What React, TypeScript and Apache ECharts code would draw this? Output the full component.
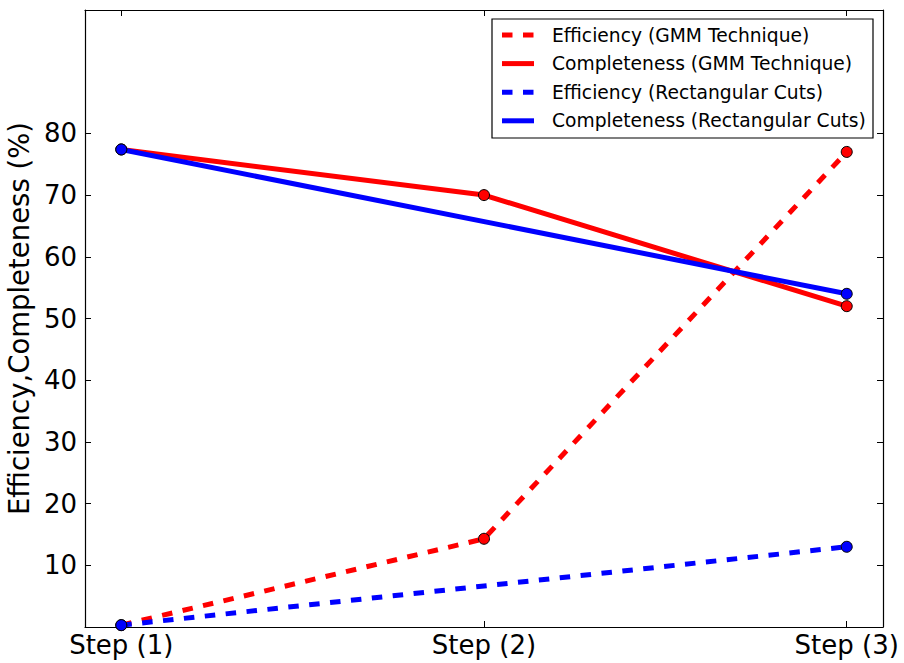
import React, { useEffect, useRef } from "react";
import * as echarts from "echarts";

// Selection steps (x positions 0, 1, 2)
const steps = ["Step (1)", "Step (2)", "Step (3)"];
const stepPos = [0, 1, 2];

// GMM technique, measured at all three steps
const gmmEfficiency = [0.3, 14.3, 77.0];
const gmmCompleteness = [77.4, 70.0, 52.0];

// Rectangular cuts, measured at the first and last step only
const rectSteps = [0, 2];
const rectEfficiency = [0.3, 13.0];
const rectCompleteness = [77.4, 54.0];

const yTicks = [10, 20, 30, 40, 50, 60, 70, 80];

const legendItems = [
  { name: "Efficiency (GMM Technique)", color: "#ff0000", dashed: true },
  { name: "Completeness (GMM Technique)", color: "#ff0000", dashed: false },
  { name: "Efficiency (Rectangular Cuts)", color: "#0000ff", dashed: true },
  { name: "Completeness (Rectangular Cuts)", color: "#0000ff", dashed: false },
];

const FONT = "DejaVu Sans";
const DASH = [10.5, 10.5];

function pairs(xs: number[], ys: number[]) {
  return xs.map((x, i) => [x, ys[i]]);
}

function lineSeries(name: string, color: string, dashed: boolean, data: number[][]) {
  return {
    name,
    type: "line",
    data,
    symbol: "circle",
    symbolSize: 11,
    clip: true,
    itemStyle: { color, borderColor: "#000", borderWidth: 1 },
    lineStyle: { color, width: 5, type: dashed ? DASH : "solid", cap: "butt" },
  };
}

export default function App() {
  const ref = useRef<HTMLDivElement>(null);

  useEffect(() => {
    if (!ref.current) return;
    document.body.style.margin = "0";
    const chart = echarts.init(ref.current, null, { renderer: "svg" });

    const tickCommon = { inside: true, length: 6, lineStyle: { color: "#000", width: 1 } };
    const lineCommon = { show: true, onZero: false, lineStyle: { color: "#000", width: 1.2 } };

    const legendX = 492;
    const legendY = 19;
    const rowH = 28.6;
    const legendGraphics: any[] = [
      {
        type: "rect",
        shape: { x: legendX, y: legendY, width: 381, height: 119 },
        style: { fill: "#fff", stroke: "#000", lineWidth: 1.2 },
        z: 100,
      },
    ];
    legendItems.forEach((it, i) => {
      const cy = legendY + 16 + i * rowH;
      legendGraphics.push({
        type: "line",
        shape: { x1: legendX + 10, y1: cy, x2: legendX + 42, y2: cy },
        style: {
          stroke: it.color,
          lineWidth: 5,
          lineDash: it.dashed ? DASH : null,
        },
        z: 101,
      });
      legendGraphics.push({
        type: "text",
        x: legendX + 60,
        y: cy,
        style: {
          text: it.name,
          fontFamily: FONT,
          fontSize: 18.7,
          fill: "#000",
          verticalAlign: "middle",
          align: "left",
        },
        z: 101,
      });
    });

    chart.setOption({
      animation: false,
      backgroundColor: "#fff",
      grid: {
        left: 85,
        right: 21,
        top: 10,
        bottom: 36,
        containLabel: false,
        outerBoundsMode: "none",
      },
      xAxis: [
        {
          type: "value",
          min: -0.1,
          max: 2.1,
          splitLine: { show: false },
          axisLine: lineCommon,
          axisTick: { ...tickCommon, customValues: stepPos },
          axisLabel: {
            customValues: stepPos,
            formatter: (v: number) => steps[Math.round(v)] ?? "",
            fontFamily: FONT,
            fontSize: 26,
            color: "#000",
            margin: 5,
          },
        },
        {
          type: "value",
          position: "top",
          min: -0.1,
          max: 2.1,
          splitLine: { show: false },
          axisLine: lineCommon,
          axisTick: { ...tickCommon, customValues: stepPos },
          axisLabel: { show: false },
        },
      ],
      yAxis: [
        {
          type: "value",
          min: 0,
          max: 100,
          name: "Efficiency,Completeness (%)",
          nameLocation: "middle",
          nameGap: 47,
          nameTextStyle: { fontFamily: FONT, fontSize: 27.5, color: "#000" },
          splitLine: { show: false },
          axisLine: lineCommon,
          axisTick: { ...tickCommon, customValues: yTicks },
          axisLabel: {
            customValues: yTicks,
            fontFamily: FONT,
            fontSize: 26,
            color: "#000",
            margin: 8,
          },
        },
        {
          type: "value",
          position: "right",
          min: 0,
          max: 100,
          splitLine: { show: false },
          axisLine: lineCommon,
          axisTick: { ...tickCommon, customValues: yTicks },
          axisLabel: { show: false },
        },
      ],
      series: [
        lineSeries(legendItems[0].name, "#ff0000", true, pairs(stepPos, gmmEfficiency)),
        lineSeries(legendItems[1].name, "#ff0000", false, pairs(stepPos, gmmCompleteness)),
        lineSeries(legendItems[2].name, "#0000ff", true, pairs(rectSteps, rectEfficiency)),
        lineSeries(legendItems[3].name, "#0000ff", false, pairs(rectSteps, rectCompleteness)),
      ],
      graphic: legendGraphics,
    });

    return () => chart.dispose();
  }, []);

  return <div ref={ref} style={{ width: 904, height: 663 }} />;
}
